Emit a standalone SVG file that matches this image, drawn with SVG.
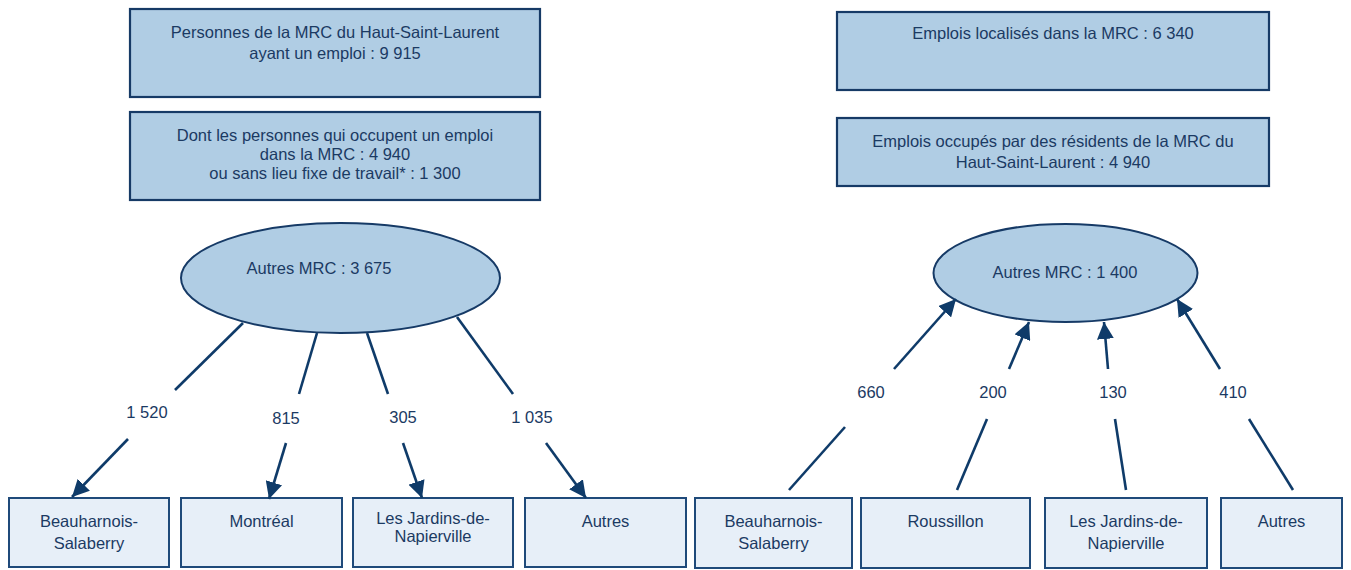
<svg xmlns="http://www.w3.org/2000/svg" width="1351" height="570" viewBox="0 0 1351 570">
  <style>
    text { font-family: "Liberation Sans", Arial, sans-serif; font-size: 16.5px; fill: #1B3A63; text-anchor: middle; }
    .top { fill: #B0CDE4; stroke: #163A66; stroke-width: 2.2; }
    .bot { fill: #E7EFF8; stroke: #1F4A7A; stroke-width: 2; }
    .ell { fill: #B0CDE4; stroke: #163A66; stroke-width: 2; }
    .ln { stroke: #0F3B69; stroke-width: 2.6; fill: none; }
    .arr { marker-end: url(#ah); }
  </style>
  <defs>
    <marker id="ah" viewBox="0 0 14 14" refX="14" refY="7" markerWidth="17" markerHeight="17" markerUnits="userSpaceOnUse" orient="auto">
      <path d="M0,0 L14,7 L0,14 z" fill="#0F3B69"/>
    </marker>
  </defs>

  <!-- Left side -->
  <g id="personnes">
    <rect class="top" x="130" y="9" width="410" height="88"/>
    <text x="335" y="38">Personnes de la MRC du Haut-Saint-Laurent</text>
    <text x="335" y="59">ayant un emploi : 9 915</text>
  </g>
  <g id="dont">
    <rect class="top" x="130" y="112" width="410" height="88"/>
    <text x="335" y="141">Dont les personnes qui occupent un emploi</text>
    <text x="335" y="160">dans la MRC : 4 940</text>
    <text x="335" y="179">ou sans lieu fixe de travail* : 1 300</text>
  </g>
  <g id="autres-mrc-left">
    <ellipse class="ell" cx="340.5" cy="278" rx="159.5" ry="55"/>
    <text x="319" y="274">Autres MRC : 3 675</text>
  </g>
  <g id="l-beauharnois">
    <rect class="bot" x="9" y="498" width="160" height="69"/>
    <text x="89" y="527">Beauharnois-</text>
    <text x="89" y="549">Salaberry</text>
  </g>
  <g id="l-montreal">
    <rect class="bot" x="181" y="498" width="161" height="69"/>
    <text x="261.5" y="527">Montréal</text>
  </g>
  <g id="l-jardins">
    <rect class="bot" x="353" y="498" width="160" height="69"/>
    <text x="433" y="524">Les Jardins-de-</text>
    <text x="433" y="542">Napierville</text>
  </g>
  <g id="l-autres">
    <rect class="bot" x="525" y="498" width="161" height="69"/>
    <text x="605.5" y="527">Autres</text>
  </g>

  <!-- Right side -->
  <g id="emplois-localises">
    <rect class="top" x="837" y="12" width="432" height="78"/>
    <text x="1053" y="39">Emplois localisés dans la MRC : 6 340</text>
  </g>
  <g id="emplois-occupes">
    <rect class="top" x="837" y="118" width="432" height="68"/>
    <text x="1053" y="147">Emplois occupés par des résidents de la MRC du</text>
    <text x="1053" y="168">Haut-Saint-Laurent : 4 940</text>
  </g>
  <g id="autres-mrc-right">
    <ellipse class="ell" cx="1065.5" cy="273" rx="132" ry="49"/>
    <text x="1065" y="278">Autres MRC : 1 400</text>
  </g>
  <g id="r-beauharnois">
    <rect class="bot" x="695" y="498" width="157" height="70"/>
    <text x="773.5" y="527">Beauharnois-</text>
    <text x="773.5" y="549">Salaberry</text>
  </g>
  <g id="r-roussillon">
    <rect class="bot" x="861" y="498" width="169" height="70"/>
    <text x="945.5" y="527">Roussillon</text>
  </g>
  <g id="r-jardins">
    <rect class="bot" x="1045" y="498" width="162" height="70"/>
    <text x="1126" y="527">Les Jardins-de-</text>
    <text x="1126" y="549">Napierville</text>
  </g>
  <g id="r-autres">
    <rect class="bot" x="1221" y="498" width="121" height="70"/>
    <text x="1281.5" y="527">Autres</text>
  </g>

  <!-- Connectors -->
  <g id="connectors">
    <line class="ln" x1="243" y1="323" x2="175" y2="390"/>
    <line class="ln arr" x1="128" y1="439" x2="72" y2="497"/>
    <line class="ln" x1="317" y1="333" x2="299" y2="394"/>
    <line class="ln arr" x1="286" y1="443" x2="269" y2="499"/>
    <line class="ln" x1="367" y1="333" x2="388" y2="394"/>
    <line class="ln arr" x1="403" y1="443" x2="422" y2="498"/>
    <line class="ln" x1="457" y1="317" x2="513" y2="394"/>
    <line class="ln arr" x1="546" y1="443" x2="586" y2="498"/>
    <line class="ln" x1="789" y1="490" x2="845" y2="427"/>
    <line class="ln arr" x1="894" y1="369" x2="956" y2="299"/>
    <line class="ln" x1="957" y1="490" x2="987" y2="419"/>
    <line class="ln arr" x1="1009" y1="369" x2="1029" y2="322"/>
    <line class="ln" x1="1126" y1="490" x2="1115" y2="419"/>
    <line class="ln arr" x1="1108" y1="369" x2="1104" y2="322"/>
    <line class="ln" x1="1293" y1="490" x2="1249" y2="419"/>
    <line class="ln arr" x1="1220" y1="369" x2="1177" y2="299"/>
  </g>

  <g id="labels">
    <text x="147" y="418">1 520</text>
    <text x="286" y="424">815</text>
    <text x="403" y="423">305</text>
    <text x="532" y="423">1 035</text>
    <text x="871" y="398">660</text>
    <text x="993" y="398">200</text>
    <text x="1113" y="398">130</text>
    <text x="1233" y="398">410</text>
  </g>
</svg>
